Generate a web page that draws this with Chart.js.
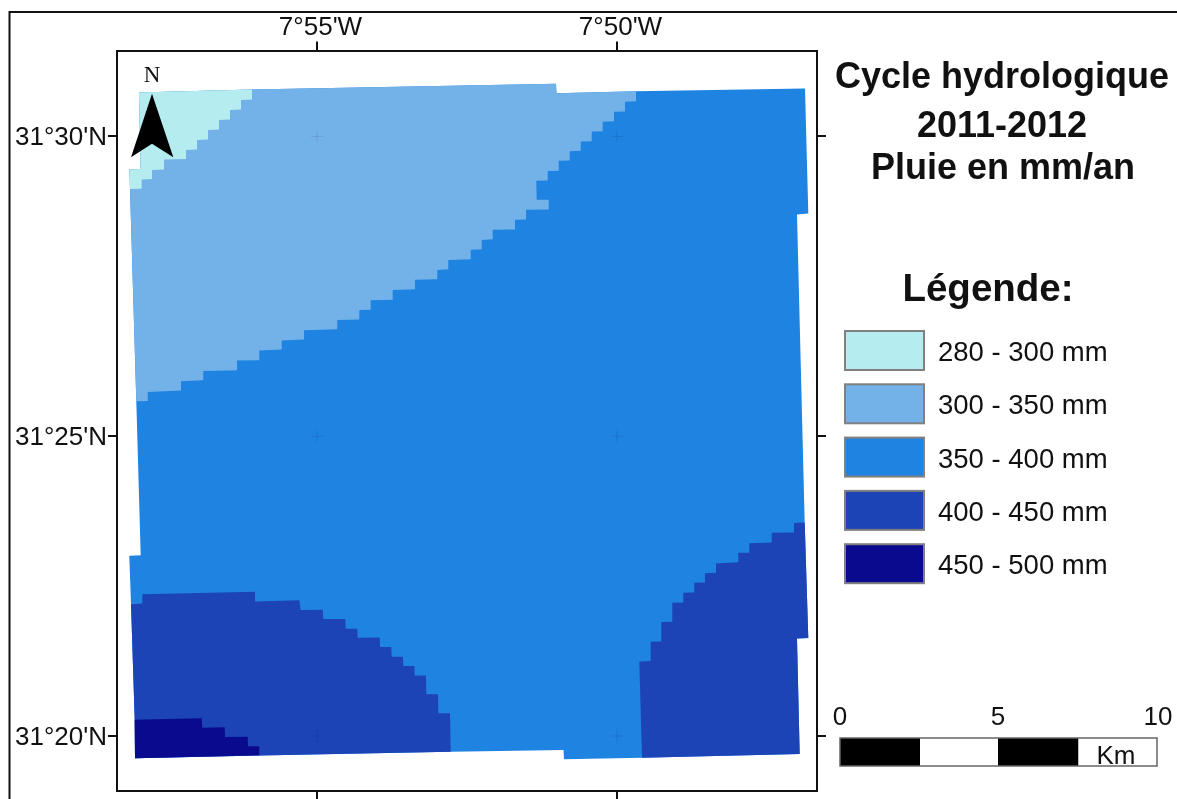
<!DOCTYPE html>
<html lang="fr">
<head>
  <meta charset="UTF-8" />
  <title>Cycle hydrologique 2011-2012</title>
  <style>
    body { margin: 0; background: #fff; overflow: hidden; }
    canvas { display: block; }
  </style>
  <script src="https://cdn.jsdelivr.net/npm/chart.js"></script>
</head>
<body>
  <canvas id="chart" width="1177" height="799"></canvas>
  <script>
    // map coordinates are arc seconds: lon east of 8°W, lat north of 31°15'N
    const lonTicks = [300, 600];
    const lonLabels = ["7°55'W", "7°50'W"];
    const latTicks = [300, 600, 900];
    const latLabels = ["31°20'N", "31°25'N", "31°30'N"];

    const titleLines = ['Cycle hydrologique', '2011-2012', 'Pluie en mm/an'];
    const legendTitle = 'Légende:';
    const legendLabels = ['280 - 300 mm', '300 - 350 mm', '350 - 400 mm', '400 - 450 mm', '450 - 500 mm'];
    const scaleKm = ['0', '5', '10'];
    const scaleUnit = 'Km';
    const northLabel = 'N';

    const zone280 = [[122,944],[235,947],[235,937],[224,936.5],[224,927],[213,926.5],[213,917],[202,916.5],
      [202,907],[191,906.5],[191,897],[180,896.5],[180,887],[169,886.5],[169,877.5],[147,877],[147,867],
      [135,866.5],[135,857.3],[124.7,857],[124.7,847.7],[113,847.5],[112.5,867],[123.7,867.3]];

    const zone300 = [[113,847.5],[112.5,867],[123.7,867.3],[122,944],[235,947],[539,952.7],[539.5,943.2],[619,945.3],
      [619,935.3],[608,934.7],[608,925],[597,924.7],[597,915.3],[585.7,914.7],[585.7,905.3],[574.7,905],
      [574.7,895.3],[563.7,895],[563.7,885.7],[552.7,885.3],[552.7,876],[541.7,875.7],[541.7,865.7],[530.7,865.3],
      [530.7,856],[519.3,855.7],[519.7,836.7],[531.7,836.7],[531.7,827],[509,826.7],[509,817],[498,816.7],
      [498,807],[475.7,806.7],[475.7,797],[464.7,796.3],[464.7,787],[453.7,786.7],[453.7,777],[431.3,776.3],
      [431.3,767],[420.3,766.3],[420.3,757],[398,756.7],[398,747],[375.7,746.3],[375.7,736.7],[353.7,736],
      [353.7,726.7],[342.3,726.3],[342.3,716.7],[320.3,716.3],[320.3,707],[287,706],[287,696.7],[264.7,695.7],
      [264.7,686.7],[242.3,685.7],[242.3,676],[220,675.7],[220,666],[186.3,665.3],[186.3,656],[164,655],
      [164,645.7],[130.7,644.3],[130.7,635.3],[119.3,635]];

    const zone350 = [[122,944],[235,947],[539,952.7],[539.5,943.2],[619,945.3],[788,948],[791.3,823],[780,822],
      [787.7,513.7],[791.3,398.2],[780,397.7],[782.7,282],[625,278.3],[547,276.7],[546.5,286],[433.7,284.3],
      [243,280.5],[118,277.7],[117.7,316.3],[114,432],[112.3,480.3],[123.7,481],[119.3,635],[113,847.5],
      [112.5,867],[123.7,867.3]];

    const zone400West = [[114,432],[125.3,432.7],[125.3,442],[238,444.3],[238,434.7],[282.3,436],[283.7,426],
      [305.7,426.3],[306.3,417],[328.3,417],[328.7,407.3],[340.3,407.3],[340.7,398.3],[362.7,398.7],[363,389],
      [374.3,389],[374.7,379.3],[386,379.3],[386.3,370],[397.3,370],[397.7,360.7],[409,360.7],[409.3,341.7],
      [421,341.7],[421.3,322.7],[433,322.7],[433.7,284.3],[243,280.5],[118,277.7],[117.7,316.3]];

    const zone400East = [[622.3,374.7],[633.7,375],[633.7,394.3],[644.3,394.7],[644.3,414],[655.3,414.3],[655.3,433.3],
      [666.3,433.7],[666.3,443.3],[677.3,443.7],[677.3,453.3],[688,453.7],[688,463],[699,463.3],[699,472.7],
      [721.3,474],[721.3,483.3],[732.3,483.3],[732.3,493],[754.7,493.7],[754.7,503.3],[777,503.7],[777,513.3],
      [787.7,513.7],[791.3,398.2],[780,397.7],[782.7,282],[625,278.3]];

    const zone450 = [[117.7,316.3],[184.7,317.7],[185.3,308.3],[207.7,308.7],[208,299],[230.7,299.3],[231,289.7],
      [242.3,289.7],[242.3,280.7],[118,277.7]];

    const northArrow = [[135,942.7],[156.3,879.3],[135,892.7],[114,879.3]];

    const zoneColors = ['#b4ecef', '#73b2e8', '#1f83e1', '#1c44b7', '#0a0a8e'];

    const toPoints = list => list.map(p => ({ x: p[0], y: p[1] }));

    function polygon(list, color) {
      const closed = list.concat([list[0]]);
      return {
        data: toPoints(closed),
        showLine: true,
        fill: 'shape',
        backgroundColor: color,
        borderWidth: 0,
        pointRadius: 0
      };
    }

    const crosses = [];
    lonTicks.forEach(x => latTicks.forEach(y => crosses.push({ x, y })));

    // the overlay has no scale of its own, it sits in the free column on the right
    const overlay = {
      id: 'overlay',
      afterDraw(chart) {
        const ctx = chart.ctx;
        ctx.save();
        ctx.fillStyle = '#111';
        ctx.textBaseline = 'alphabetic';

        // outer frame
        ctx.strokeStyle = '#111';
        ctx.lineWidth = 2;
        ctx.beginPath();
        ctx.moveTo(9.5, 799);
        ctx.lineTo(9.5, 12);
        ctx.lineTo(1177, 12);
        ctx.stroke();

        ctx.textAlign = 'center';
        ctx.font = "23px 'Liberation Serif'";
        ctx.fillText(northLabel, 152, 81.5);

        ctx.font = "bold 36px 'Liberation Sans'";
        ctx.fillText(titleLines[0], 1002, 88);
        ctx.fillText(titleLines[1], 1002, 137);
        ctx.fillText(titleLines[2], 1003, 179);

        ctx.font = "bold 38.5px 'Liberation Sans'";
        ctx.fillText(legendTitle, 988, 301);

        legendLabels.forEach((label, i) => {
          const top = 331 + i * 53.3;
          ctx.fillStyle = zoneColors[i];
          ctx.fillRect(845, top, 79, 39);
          ctx.strokeStyle = '#808080';
          ctx.lineWidth = 2;
          ctx.strokeRect(845, top, 79, 39);
          ctx.fillStyle = '#111';
          ctx.textAlign = 'left';
          ctx.font = "27.5px 'Liberation Sans'";
          ctx.fillText(label, 938, top + 30);
        });

        // scale bar
        const edges = [840, 920, 998, 1078.5, 1157];
        edges.slice(0, 4).forEach((x, i) => {
          ctx.fillStyle = i % 2 ? '#fff' : '#000';
          ctx.fillRect(x, 738, edges[i + 1] - x, 28);
        });
        ctx.strokeStyle = '#666';
        ctx.lineWidth = 1.5;
        ctx.strokeRect(840, 738, 317, 28);

        ctx.fillStyle = '#111';
        ctx.textAlign = 'center';
        ctx.font = "26px 'Liberation Sans'";
        ctx.fillText(scaleKm[0], 840, 725);
        ctx.fillText(scaleKm[1], 998, 725);
        ctx.fillText(scaleKm[2], 1158, 725);
        ctx.fillText(scaleUnit, 1116, 764);
        ctx.restore();
      }
    };

    const axisLine = { display: true, color: '#111', width: 2 };
    const tickMarks = { drawOnChartArea: false, color: '#111', lineWidth: 2, tickLength: 9 };
    const tickFont = { family: "'Liberation Sans'", size: 26 };
    const setTicks = values => scale => { scale.ticks = values.map(value => ({ value })); };
    // fixed axis sizes, and no label overhang or the chart area shrinks
    const fixSize = (prop, size) => scale => {
      scale[prop] = size;
      scale.paddingTop = scale.paddingBottom = scale.paddingLeft = scale.paddingRight = 0;
    };

    new Chart(document.getElementById('chart'), {
      type: 'scatter',
      data: {
        // first dataset ends up on top
        datasets: [
          polygon(northArrow, '#000'),
          {
            data: crosses,
            pointStyle: 'cross',
            pointRadius: 6,
            borderColor: 'rgba(0, 0, 50, 0.1)',
            borderWidth: 1
          },
          polygon(zone450, zoneColors[4]),
          polygon(zone400West, zoneColors[3]),
          polygon(zone400East, zoneColors[3]),
          polygon(zone280, zoneColors[0]),
          polygon(zone300, zoneColors[1]),
          polygon(zone350, zoneColors[2])
        ]
      },
      options: {
        responsive: false,
        animation: false,
        devicePixelRatio: 1,
        layout: { padding: 0 },
        plugins: { legend: { display: false }, tooltip: { enabled: false } },
        scales: {
          x: {
            type: 'linear',
            position: 'top',
            min: 100,
            max: 800,
            border: axisLine,
            grid: tickMarks,
            afterBuildTicks: setTicks(lonTicks),
            afterFit: fixSize('height', 50.5),
            ticks: {
              color: '#111',
              font: tickFont,
              padding: -2,
              labelOffset: 3.5,
              maxRotation: 0,
              callback: value => lonLabels[lonTicks.indexOf(value)]
            }
          },
          xBottom: {
            type: 'linear',
            position: 'bottom',
            axis: 'x',
            min: 100,
            max: 800,
            border: axisLine,
            grid: tickMarks,
            afterBuildTicks: setTicks(lonTicks),
            afterFit: fixSize('height', 8),
            ticks: { display: false }
          },
          y: {
            type: 'linear',
            position: 'left',
            min: 245,
            max: 986,
            border: axisLine,
            grid: tickMarks,
            afterBuildTicks: setTicks(latTicks),
            afterFit: fixSize('width', 117),
            ticks: {
              color: '#111',
              font: tickFont,
              padding: 1,
              labelOffset: 1.5,
              callback: value => latLabels[latTicks.indexOf(value)]
            }
          },
          yRight: {
            type: 'linear',
            position: 'right',
            axis: 'y',
            min: 245,
            max: 986,
            border: axisLine,
            grid: tickMarks,
            afterBuildTicks: setTicks(latTicks),
            afterFit: fixSize('width', 360),
            ticks: { display: false }
          }
        }
      },
      plugins: [overlay]
    });
  </script>
</body>
</html>
